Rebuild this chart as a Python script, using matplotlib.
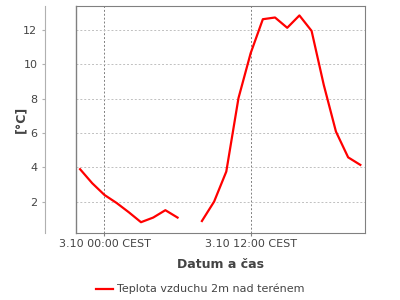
import matplotlib
matplotlib.use("Agg")
import matplotlib.pyplot as plt
import matplotlib.dates as mdates
import numpy as np
from datetime import datetime, timedelta

# hourly readings, 2.10 22:00 .. 3.10 21:00, 07:00 missing
start = datetime(2023, 10, 2, 22, 0)
times = [start + timedelta(hours=h) for h in range(24)]
temps = [3.89, 3.07, 2.39, 1.92, 1.38, 0.80, 1.07, 1.50, 1.07, np.nan,
         0.87, 2.00, 3.75, 8.03, 10.65, 12.63, 12.73, 12.13, 12.85, 11.95,
         8.80, 6.08, 4.58, 4.14]
tick_times = [datetime(2023, 10, 3, 0, 0), datetime(2023, 10, 3, 12, 0)]
series_name = "Teplota vzduchu 2m nad terénem"

plt.rcParams['font.family'] = ['DejaVu Sans']
fig = plt.figure(figsize=(4, 3), dpi=100)
ax = fig.add_axes([0.189, 0.225, 0.724, 0.755])

ax.plot(times, temps, color='#ff0000', lw=1.6, label=series_name)

ax.set_xlim(datetime(2023, 10, 2, 21, 38), datetime(2023, 10, 3, 21, 24))
ax.set_ylim(0.2, 13.4)
ax.set_xticks(tick_times)
ax.xaxis.set_major_formatter(mdates.DateFormatter('%-d.%m %H:%M CEST'))
ax.set_yticks([2, 4, 6, 8, 10, 12])

ax.grid(axis='y', color='#c0c0c0', ls=(0, (2, 2)), lw=0.7)
ax.grid(axis='x', color='#808080', ls=(0, (2, 2)), lw=0.7)

for s in ['top', 'right', 'bottom']:
    ax.spines[s].set_color('#808080')
ax.spines['left'].set_position(('outward', 22))
ax.spines['left'].set_color('#b0b0b0')
ax.plot([0, 0], [0, 1], transform=ax.transAxes, color='#808080', lw=1, clip_on=False)

ax.tick_params(axis='both', labelsize=8, labelcolor='#444444', color='#b0b0b0', length=2)
ax.tick_params(axis='x', color='#808080', pad=3)

ax.set_ylabel('[°C]', fontsize=9, fontweight='bold', color='#444444', labelpad=-3)
ax.set_xlabel('Datum a čas', fontsize=9, fontweight='bold', color='#444444', labelpad=6)

fig.legend(loc='lower center', bbox_to_anchor=(0.5, -0.015), frameon=False, fontsize=8,
           handlelength=1.6, handletextpad=0.3, labelcolor='#444444')

fig.savefig('out.png', dpi=100)
